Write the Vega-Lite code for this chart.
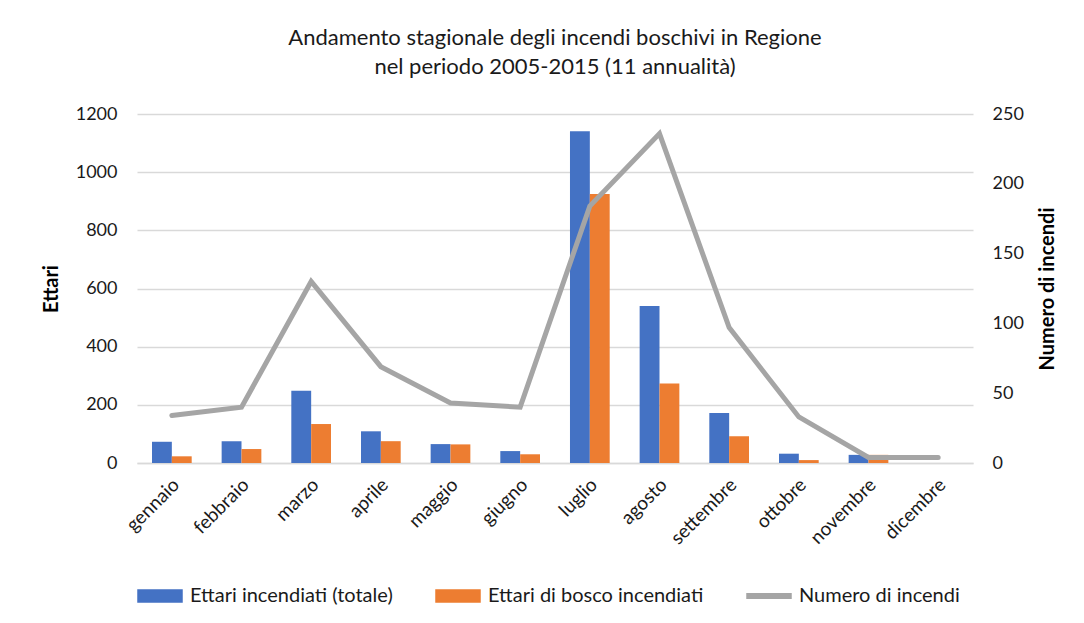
{
  "$schema": "https://vega.github.io/schema/vega-lite/v6.json",
  "width": 836,
  "height": 349,
  "autosize": {"type": "none"},
  "padding": {"left": 137, "top": 114, "right": 111, "bottom": 160},
  "background": "white",
  "title": {
    "text": ["Andamento stagionale degli incendi boschivi in Regione", "nel periodo 2005-2015 (11 annualità)"],
    "font": "Lato",
    "fontSize": 22,
    "fontWeight": "normal",
    "color": "#1a1a1a",
    "anchor": "middle",
    "lineHeight": 29,
    "offset": 26
  },
  "datasets": {
    "bars": [
      {"mese": "gennaio", "serie": "Ettari incendiati (totale)", "ettari": 73},
      {"mese": "gennaio", "serie": "Ettari di bosco incendiati", "ettari": 23},
      {"mese": "febbraio", "serie": "Ettari incendiati (totale)", "ettari": 75},
      {"mese": "febbraio", "serie": "Ettari di bosco incendiati", "ettari": 48},
      {"mese": "marzo", "serie": "Ettari incendiati (totale)", "ettari": 248},
      {"mese": "marzo", "serie": "Ettari di bosco incendiati", "ettari": 134},
      {"mese": "aprile", "serie": "Ettari incendiati (totale)", "ettari": 109},
      {"mese": "aprile", "serie": "Ettari di bosco incendiati", "ettari": 75},
      {"mese": "maggio", "serie": "Ettari incendiati (totale)", "ettari": 65},
      {"mese": "maggio", "serie": "Ettari di bosco incendiati", "ettari": 64},
      {"mese": "giugno", "serie": "Ettari incendiati (totale)", "ettari": 41},
      {"mese": "giugno", "serie": "Ettari di bosco incendiati", "ettari": 30},
      {"mese": "luglio", "serie": "Ettari incendiati (totale)", "ettari": 1141},
      {"mese": "luglio", "serie": "Ettari di bosco incendiati", "ettari": 925},
      {"mese": "agosto", "serie": "Ettari incendiati (totale)", "ettari": 540},
      {"mese": "agosto", "serie": "Ettari di bosco incendiati", "ettari": 273},
      {"mese": "settembre", "serie": "Ettari incendiati (totale)", "ettari": 172},
      {"mese": "settembre", "serie": "Ettari di bosco incendiati", "ettari": 92},
      {"mese": "ottobre", "serie": "Ettari incendiati (totale)", "ettari": 32},
      {"mese": "ottobre", "serie": "Ettari di bosco incendiati", "ettari": 10},
      {"mese": "novembre", "serie": "Ettari incendiati (totale)", "ettari": 28},
      {"mese": "novembre", "serie": "Ettari di bosco incendiati", "ettari": 28},
      {"mese": "dicembre", "serie": "Ettari incendiati (totale)", "ettari": 0},
      {"mese": "dicembre", "serie": "Ettari di bosco incendiati", "ettari": 0}
    ],
    "fires": [
      {"mese": "gennaio", "incendi": 34},
      {"mese": "febbraio", "incendi": 40},
      {"mese": "marzo", "incendi": 130},
      {"mese": "aprile", "incendi": 69},
      {"mese": "maggio", "incendi": 43},
      {"mese": "giugno", "incendi": 40},
      {"mese": "luglio", "incendi": 184},
      {"mese": "agosto", "incendi": 236},
      {"mese": "settembre", "incendi": 97},
      {"mese": "ottobre", "incendi": 33},
      {"mese": "novembre", "incendi": 4},
      {"mese": "dicembre", "incendi": 4}
    ]
  },
  "layer": [
    {
      "data": {"name": "bars"},
      "mark": {"type": "bar"},
      "encoding": {
        "x": {
          "field": "mese",
          "type": "nominal",
          "sort": ["gennaio", "febbraio", "marzo", "aprile", "maggio", "giugno", "luglio", "agosto", "settembre", "ottobre", "novembre", "dicembre"],
          "scale": {"paddingInner": 0.43, "paddingOuter": 0.215},
          "axis": {
            "title": null,
            "labelAngle": -45,
            "labelAlign": "right",
            "labelBaseline": "top",
            "labelFont": "Lato",
            "labelFontSize": 19,
            "labelColor": "#1a1a1a",
            "labelPadding": 12,
            "labelOffset": -2,
            "ticks": false,
            "domain": true,
            "domainColor": "#d9d9d9",
            "domainWidth": 1.5,
            "grid": false
          }
        },
        "xOffset": {"field": "serie", "type": "nominal", "sort": ["Ettari incendiati (totale)", "Ettari di bosco incendiati"]},
        "y": {
          "field": "ettari",
          "type": "quantitative",
          "scale": {"domain": [0, 1200], "nice": false},
          "axis": {
            "title": "Ettari",
            "titleFont": "Lato",
            "titleFontSize": 20,
            "titleFontWeight": "bold",
            "titleColor": "#000000",
            "titlePadding": 14,
            "values": [0, 200, 400, 600, 800, 1000, 1200],
            "format": "d",
            "labelFont": "Lato",
            "labelFontSize": 18,
            "labelColor": "#1a1a1a",
            "labelPadding": 20,
            "ticks": false,
            "domain": false,
            "grid": true,
            "gridColor": "#d9d9d9",
            "gridWidth": 1.5
          }
        },
        "color": {
          "field": "serie",
          "type": "nominal",
          "scale": {
            "domain": ["Ettari incendiati (totale)", "Ettari di bosco incendiati", "Numero di incendi"],
            "range": ["#4472C4", "#ED7D31", "#A5A5A5"]
          },
          "legend": {
            "title": null,
            "orient": "bottom",
            "direction": "horizontal",
            "offset": 25,
            "labelFont": "Lato",
            "labelFontSize": 20,
            "labelColor": "#1a1a1a",
            "labelOffset": 7,
            "columnPadding": 40,
            "symbolSize": 1936,
            "labelLimit": 400,
            "encode": {
              "symbols": {
                "update": {
                  "shape": {"signal": "datum.value === 'Numero di incendi' ? 'M-1,-0.1h2v0.2h-2z' : 'M-1,-0.27h2v0.54h-2z'"},
                  "fill": {"signal": "scale('color', datum.value)"},
                  "stroke": {"value": "transparent"},
                  "opacity": {"value": 1}
                }
              }
            }
          }
        }
      }
    },
    {
      "data": {"name": "fires"},
      "mark": {"type": "line", "strokeWidth": 5, "strokeJoin": "miter", "strokeCap": "round"},
      "encoding": {
        "x": {
          "field": "mese",
          "type": "nominal",
          "sort": ["gennaio", "febbraio", "marzo", "aprile", "maggio", "giugno", "luglio", "agosto", "settembre", "ottobre", "novembre", "dicembre"]
        },
        "y": {
          "field": "incendi",
          "type": "quantitative",
          "scale": {"domain": [0, 250], "nice": false},
          "axis": {
            "orient": "right",
            "title": "Numero di incendi",
            "titleFont": "Lato",
            "titleFontSize": 20,
            "titleFontWeight": "bold",
            "titleColor": "#000000",
            "titleAngle": 270,
            "titleBaseline": "top",
            "titlePadding": 14,
            "values": [0, 50, 100, 150, 200, 250],
            "labelFont": "Lato",
            "labelFontSize": 18,
            "labelColor": "#1a1a1a",
            "labelPadding": 19,
            "ticks": false,
            "domain": false,
            "grid": false
          }
        },
        "color": {"datum": "Numero di incendi"}
      }
    }
  ],
  "resolve": {"scale": {"y": "independent"}},
  "config": {"view": {"stroke": null}}
}
